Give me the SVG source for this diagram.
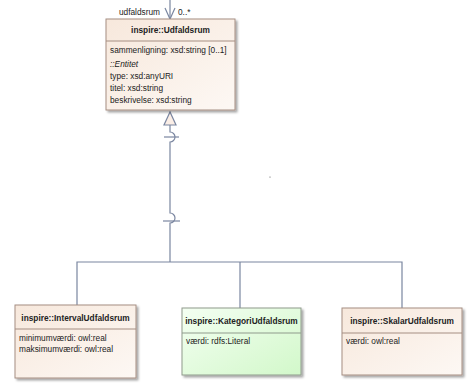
<svg xmlns="http://www.w3.org/2000/svg" width="475" height="389" viewBox="0 0 475 389">
<defs>
<linearGradient id="beige" x1="0" y1="0" x2="1" y2="1">
<stop offset="0" stop-color="#f7e8dc"/>
<stop offset="1" stop-color="#fdf8f4"/>
</linearGradient>
<linearGradient id="green" x1="0" y1="0" x2="1" y2="1">
<stop offset="0" stop-color="#f4fff2"/>
<stop offset="1" stop-color="#d2f8ca"/>
</linearGradient>
<filter id="sh" x="-10%" y="-10%" width="130%" height="130%">
<feOffset dx="2" dy="2" in="SourceAlpha" result="o"/>
<feGaussianBlur in="o" stdDeviation="1" result="b"/>
<feColorMatrix in="b" type="matrix" values="0 0 0 0 0  0 0 0 0 0  0 0 0 0 0  0 0 0 0.35 0"/>
<feMerge><feMergeNode/><feMergeNode in="SourceGraphic"/></feMerge>
</filter>
</defs>
<style>
text{font-family:"Liberation Sans",Arial,sans-serif;font-size:8.3px;fill:#222}
.t{font-weight:bold;text-anchor:middle}
.i{font-style:italic}
.box{stroke:#a58e82;stroke-width:1}
.gbox{stroke:#8f9a8c;stroke-width:1}
.div{stroke:#a58e82;stroke-width:1}
.gdiv{stroke:#8f9a8c;stroke-width:1}
.c{fill:none;stroke:#7a86a0;stroke-width:1.2}
</style>
<g id="connectors">
<path class="c" d="M170,0 V19"/>
<path class="c" d="M165,8 L170,19 L175,8"/>
<polygon points="170,112 164,125 176,125" fill="#fbeee6" stroke="#7a86a0" stroke-width="1.2"/>
<path class="c" d="M170,125 V132 A5,5 0 0 1 170,142 V213 A5,5 0 0 1 170,223 V262"/>
<path class="c" d="M164,137 H179"/>
<path class="c" d="M163,221 H180"/>
<path class="c" d="M77,305 V262 H402 V308"/>
<path class="c" d="M240,262 V308"/>
<text x="160" y="15" text-anchor="end">udfaldsrum</text>
<text x="178" y="15">0..*</text>
</g>
<g id="Udfaldsrum">
<rect class="box" x="106" y="19" width="129" height="91" fill="url(#beige)" filter="url(#sh)"/>
<line class="div" x1="106" y1="41" x2="235" y2="41"/>
<text class="t" x="170.5" y="33">inspire::Udfaldsrum</text>
<text x="110" y="53">sammenligning: xsd:string [0..1]</text>
<text class="i" x="110" y="67">::Entitet</text>
<text x="110" y="79">type: xsd:anyURI</text>
<text x="110" y="91">titel: xsd:string</text>
<text x="110" y="103">beskrivelse: xsd:string</text>
</g>
<g id="IntervalUdfaldsrum">
<rect class="box" x="15" y="305" width="121" height="73" fill="url(#beige)" filter="url(#sh)"/>
<line class="div" x1="15" y1="329" x2="136" y2="329"/>
<text class="t" x="75.5" y="321">inspire::IntervalUdfaldsrum</text>
<text x="19" y="341">minimumværdi: owl:real</text>
<text x="19" y="352">maksimumværdi: owl:real</text>
</g>
<g id="KategoriUdfaldsrum">
<rect class="gbox" x="182" y="308" width="119" height="67" fill="url(#green)" filter="url(#sh)"/>
<line class="gdiv" x1="182" y1="333" x2="301" y2="333"/>
<text class="t" x="241.5" y="324">inspire::KategoriUdfaldsrum</text>
<text x="186" y="344">værdi: rdfs:Literal</text>
</g>
<g id="SkalarUdfaldsrum">
<rect class="box" x="342" y="308" width="120" height="67" fill="url(#beige)" filter="url(#sh)"/>
<line class="div" x1="342" y1="333" x2="462" y2="333"/>
<text class="t" x="402" y="324">inspire::SkalarUdfaldsrum</text>
<text x="346" y="344">værdi: owl:real</text>
</g>
<circle cx="270" cy="177" r="0.6" fill="#555"/>
</svg>
